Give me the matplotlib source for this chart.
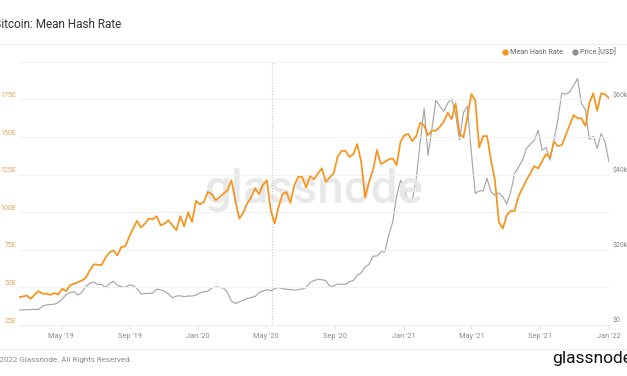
import matplotlib
matplotlib.use("Agg")
import matplotlib.pyplot as plt
import matplotlib.dates as mdates
from matplotlib.lines import Line2D
from matplotlib.transforms import ScaledTranslation
import pandas as pd

plt.rcParams['font.family'] = ['Roboto', 'DejaVu Sans']

# weekly samples
dates = pd.date_range('2019-02-16', periods=151, freq='7D')

hash_rate = [
    43.5, 44.0, 44.6, 42.4, 45.3, 47.5, 45.8, 45.8, 45.1, 46.2,
    45.3, 49.1, 47.5, 51.5, 52.4, 53.5, 54.6, 56.4, 61.3, 65.3,
    65.1, 64.8, 69.8, 73.3, 74.6, 71.3, 76.8, 77.3, 83.5, 89.1,
    94.2, 89.8, 92.4, 95.8, 95.3, 97.3, 91.3, 92.4, 94.6, 91.3,
    88.0, 97.3, 90.6, 100.0, 93.5, 107.5, 105.3, 106.8, 113.5, 112.0,
    108.0, 110.0, 112.4, 114.6, 121.3, 108.0, 95.8, 99.5, 105.8, 109.8,
    115.8, 112.0, 118.0, 121.3, 101.3, 92.4, 103.5, 112.0, 113.5, 106.2,
    118.0, 123.5, 123.5, 116.4, 124.0, 121.8, 125.8, 129.1, 120.2, 123.1,
    125.8, 136.8, 140.8, 140.8, 136.8, 138.6, 145.3, 133.5, 109.8, 120.2,
    128.0, 141.3, 132.0, 133.5, 135.1, 135.8, 131.3, 146.8, 151.3, 152.0,
    147.3, 150.6, 159.5, 157.5, 151.3, 154.2, 154.2, 156.8, 160.2, 166.2,
    161.8, 172.4, 152.0, 149.8, 163.1, 178.6, 174.2, 143.1, 150.6, 150.6,
    134.6, 121.3, 93.5, 89.1, 98.0, 100.8, 100.8, 110.6, 116.0, 121.3,
    126.0, 130.6, 129.1, 134.0, 138.6, 136.4, 146.8, 144.0, 144.6, 151.3,
    158.0, 164.6, 162.4, 162.4, 157.3, 172.4, 179.1, 167.5, 179.1, 178.4,
    175.8,
]

price = [
    3980, 4040, 4090, 4120, 4140, 4170, 5050, 5370, 5450, 5520,
    5980, 6910, 8100, 8630, 8840, 7970, 8770, 10230, 11080, 11420,
    10760, 10810, 9960, 11020, 11630, 10620, 10170, 10010, 10620, 10490,
    9750, 8230, 8370, 8420, 8500, 9560, 9300, 8980, 8230, 7250,
    7700, 7780, 7520, 7700, 7700, 7970, 8550, 8840, 8980, 9830,
    10150, 10010, 9830, 8630, 6370, 5710, 6110, 6640, 7040, 7300,
    7570, 8630, 9030, 9430, 9110, 9640, 10010, 9640, 9510, 9430,
    9300, 9430, 9560, 9960, 11290, 11820, 12140, 12030, 11820, 10360,
    10360, 10890, 10840, 10810, 11550, 11820, 13200, 13940, 15410, 16120,
    18330, 18330, 19470, 19470, 23900, 27360, 34260, 38510, 35860, 32540,
    33200, 39040, 48680, 57560, 45150, 52320, 59760, 58170, 56840, 58960,
    60160, 56040, 49140, 56570, 58170, 45950, 34980, 35670, 35670, 38960,
    35400, 34530, 35140, 34080, 32140, 35320, 40290, 41970, 43830, 46930,
    48070, 49140, 51790, 46480, 47200, 43830, 49140, 54630, 61700, 61350,
    61960, 63740, 65520, 58880, 57290, 49400, 50200, 47010, 50920, 48680,
    43370,
]

hash_ticks = [25, 50, 75, 100, 125, 150, 175]
price_ticks = [0, 20000, 40000, 60000]
halving = pd.Timestamp('2020-05-11')

ORANGE = '#f7931a'
GRAY = '#a6a6a6'

W, H = 627, 376
fig = plt.figure(figsize=(W / 100, H / 100), dpi=100)
ax = fig.add_axes([19 / W, 1 - 325 / H, 590 / W, 263.2 / H])
ax2 = ax.twinx()

ax.set_zorder(ax2.get_zorder() + 1)
ax.patch.set_visible(False)

ax2.plot(dates, price, color=GRAY, lw=0.85, zorder=3)
ax.plot(dates, hash_rate, color=ORANGE, lw=1.25, zorder=4)
ax.axvline(halving, color='#c8c8c8', lw=0.8, ls=(0, (1, 1.5)), zorder=2)

ax.set_ylim(25, 200)
ax2.set_ylim(0, 70000)

ax.set_yticks(list(range(25, 201, 25)))
ax.yaxis.grid(True, color='#f1f1f1', lw=0.8)
ax.set_axisbelow(True)
ax.set_yticklabels([f'{t}E' if t in hash_ticks else '' for t in range(25, 201, 25)])
ax2.set_yticks(price_ticks)
ax2.set_yticklabels(['$0' if p == 0 else f'${p // 1000}k' for p in price_ticks])

for a in (ax, ax2):
    for s in a.spines.values():
        s.set_visible(False)
ax.spines['bottom'].set_visible(True)
ax.spines['bottom'].set_color('#eeeeee')

ax.tick_params(axis='y', length=0, pad=1.8, labelsize=5, labelcolor='#e3a55c')
ax2.tick_params(axis='y', length=0, pad=2.5, labelsize=5, labelcolor='#8a8a8a')
up = ScaledTranslation(0, 3.5 / 72, fig.dpi_scale_trans)
for lbl in ax.get_yticklabels() + ax2.get_yticklabels():
    lbl.set_transform(lbl.get_transform() + up)

ax.xaxis.set_major_locator(mdates.MonthLocator(bymonth=[1, 5, 9]))
ax.xaxis.set_major_formatter(mdates.DateFormatter("%b '%y"))
ax.tick_params(axis='x', length=3, color='#e2e2e2', pad=2.5, labelsize=5.3,
               labelcolor='#8a8a8a')
ax.set_xlim(dates[0], dates[-1])

# watermark
fig.text(313 / W, 1 - 190 / H, 'glassnode', fontsize=34, color='#e8e8e8',
         ha='center', va='center', zorder=0, fontweight='medium')

# title and rules
fig.text(-6 / W, 1 - 24 / H, 'Bitcoin: Mean Hash Rate', fontsize=8.5,
         color='#333333', ha='left', va='center')
fig.add_artist(Line2D([0, 1], [1 - 44 / H] * 2, color='#eeeeee', lw=0.8))
fig.add_artist(Line2D([0, 1], [1 - 349 / H] * 2, color='#eeeeee', lw=0.8))

# legend
fig.add_artist(Line2D([505 / W], [1 - 52 / H], marker='o', ms=3.5, color=ORANGE, lw=0))
fig.text(510 / W, 1 - 52 / H, 'Mean Hash Rate', fontsize=5.2, color='#666666',
         va='center')
fig.add_artist(Line2D([575 / W], [1 - 52 / H], marker='o', ms=3.5, color='#8f8f8f', lw=0))
fig.text(580 / W, 1 - 52 / H, 'Price [USD]', fontsize=5.2, color='#666666',
         va='center')

# footer
fig.text(-9 / W, 1 - 360 / H, '\u00a9 2022 Glassnode. All Rights Reserved.',
         fontsize=5.8, color='#8a8a8a', va='center')
fig.text(552 / W, 1 - 359 / H, 'glassnode', fontsize=12.5, color='#111111',
         va='center')

fig.savefig('out.png', dpi=100)
